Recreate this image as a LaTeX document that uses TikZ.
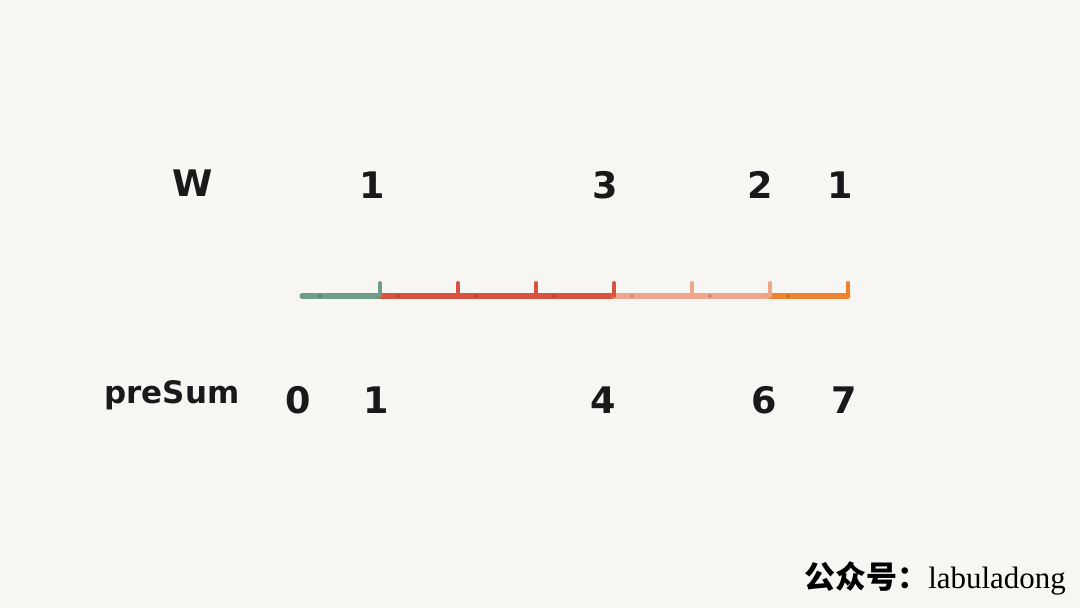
\documentclass[tikz,border=0pt]{standalone}
\usepackage{fontspec}
\setmainfont{DejaVu Sans}
\newfontfamily\cjkfont{Noto Sans CJK SC}
\newfontfamily\markfont{Liberation Serif}
\usepackage{xcolor}
\usepackage{tikz}
\usetikzlibrary{positioning, calc}

\definecolor{paper}{HTML}{F7F6F3}
\definecolor{segA}{HTML}{6E9E8A}
\definecolor{segB}{HTML}{D8533F}
\definecolor{segC}{HTML}{F0A68C}
\definecolor{segD}{HTML}{EF8230}

\tikzset{
  num/.style={font=\fontsize{26}{30}\selectfont\bfseries, text=black!90},
  seg/.style={line width=3.6pt, line cap=round},
  tick/.style={line width=2.8pt, line cap=round},
}

\begin{document}
\begin{tikzpicture}[x=0.025cm, y=-0.025cm]

    % paper
    \fill[paper] (0,0) rectangle (1080,608);
    \useasboundingbox (0,0) rectangle (1080,608);

    % points on the weight line
    \foreach \i in {0,...,7} {
        \coordinate (p\i) at ({302+78*\i},296);
    }

    % coloured segments
    \draw[seg, segA] (p0) -- (p1);
    \draw[seg, segB] (p1) -- (p4);
    \draw[seg, segC] (p4) -- (p6);
    \draw[seg, segD] (p6) -- (p7);

    % ticks
    \foreach \i/\c in {1/segA, 2/segB, 3/segB, 4/segB, 5/segC, 6/segC, 7/segD} {
        \draw[tick, \c] (p\i) -- ++(0,-13);
    }
    % small dots after each start
    \foreach \i/\c in {0/segA, 1/segB, 2/segB, 3/segB, 4/segC, 5/segC, 6/segD} {
        \fill[\c!80!black] ($(p\i)+(18,0)$) circle (1.8);
    }

    % W row
    \node[num] (wlab) at (193,183) {W};
    \node[num] (w1) at (372,185) {1};
    \node[num] (w2) at (605,185) {3};
    \node[num] (w3) at (760,185) {2};
    \node[num] (w4) at (840,185) {1};

    % preSum row
    \node[num, font=\fontsize{22}{26}\selectfont\bfseries] (slab) at (172,395) {preSum};
    \node[num] (s0) at (298,400) {0};
    \node[num] (s1) at (376,400) {1};
    \node[num] (s2) at (603,400) {4};
    \node[num] (s3) at (764,400) {6};
    \node[num] (s4) at (844,400) {7};

    % watermark
    \node[anchor=east, inner sep=0pt] (mark) at (1066,578)
        {\fontsize{22}{26}\selectfont{\cjkfont\bfseries 公众号：}\markfont labuladong};

\end{tikzpicture}
\end{document}
